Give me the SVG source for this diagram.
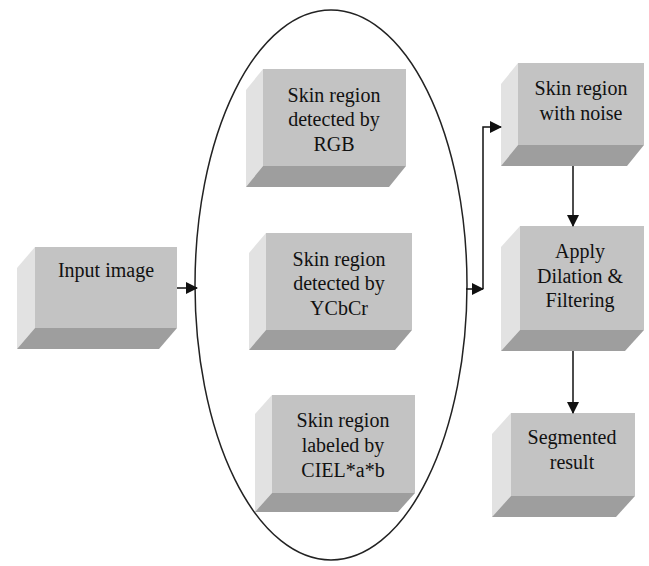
<svg xmlns="http://www.w3.org/2000/svg" width="649" height="566" viewBox="0 0 649 566">
<style>
.front{fill:#c3c3c3}
.side{fill:#e2e2e2}
.bottom{fill:#9e9e9e}
.lbl{font-family:"Liberation Serif","Times New Roman",serif;font-size:20px;fill:#111;text-anchor:middle}
.conn{fill:none;stroke:#111;stroke-width:1.5}
</style>
<defs>
<marker id="ah" markerUnits="userSpaceOnUse" markerWidth="12" markerHeight="12" refX="11" refY="6" orient="auto">
<path d="M0,0 L12,6 L0,12 z" fill="#111"/>
</marker>
</defs>
<rect width="649" height="566" fill="#fff"/>
<ellipse id="group-ellipse" cx="331" cy="285" rx="136" ry="275" fill="none" stroke="#222" stroke-width="1.5"/>
<g id="input">
<polygon class="side" points="35,247 17,268 17,349 35,328"/>
<polygon class="bottom" points="35,328 177,328 159,349 17,349"/>
<rect class="front" x="35" y="247" width="142" height="81"/>
<text class="lbl" x="106" y="277">Input image</text>
</g>
<g id="rgb">
<polygon class="side" points="263,69 246,90 246,187 263,166"/>
<polygon class="bottom" points="263,166 406,166 389,187 246,187"/>
<rect class="front" x="263" y="69" width="143" height="97"/>
<text class="lbl" x="334" y="102">Skin region</text>
<text class="lbl" x="334" y="126">detected by</text>
<text class="lbl" x="334" y="151">RGB</text>
</g>
<g id="ycbcr">
<polygon class="side" points="266,233 249,253 249,350 266,330"/>
<polygon class="bottom" points="266,330 412,330 395,350 249,350"/>
<rect class="front" x="266" y="233" width="146" height="97"/>
<text class="lbl" x="339" y="266">Skin region</text>
<text class="lbl" x="339" y="290">detected by</text>
<text class="lbl" x="339" y="315">YCbCr</text>
</g>
<g id="ciel">
<polygon class="side" points="272,395 255,414 255,512 272,493"/>
<polygon class="bottom" points="272,493 415,493 398,512 255,512"/>
<rect class="front" x="272" y="395" width="143" height="98"/>
<text class="lbl" x="343" y="427">Skin region</text>
<text class="lbl" x="343" y="452">labeled by</text>
<text class="lbl" x="343" y="477">CIEL*a*b</text>
</g>
<g id="noise">
<polygon class="side" points="518,63 501,84 501,166 518,145"/>
<polygon class="bottom" points="518,145 644,145 627,166 501,166"/>
<rect class="front" x="518" y="63" width="126" height="82"/>
<text class="lbl" x="581" y="95">Skin region</text>
<text class="lbl" x="581" y="120">with noise</text>
</g>
<g id="apply">
<polygon class="side" points="520,226 501,247 501,351 520,330"/>
<polygon class="bottom" points="520,330 644,330 625,351 501,351"/>
<rect class="front" x="520" y="226" width="124" height="104"/>
<text class="lbl" x="580" y="258">Apply</text>
<text class="lbl" x="580" y="283">Dilation &amp;</text>
<text class="lbl" x="580" y="307">Filtering</text>
</g>
<g id="segmented">
<polygon class="side" points="511,413 492,434 492,517 511,496"/>
<polygon class="bottom" points="511,496 635,496 616,517 492,517"/>
<rect class="front" x="511" y="413" width="124" height="83"/>
<text class="lbl" x="572" y="444">Segmented</text>
<text class="lbl" x="572" y="469">result</text>
</g>
<g id="connectors">
<line class="conn" x1="177" y1="288" x2="197" y2="288" marker-end="url(#ah)"/>
<line class="conn" x1="466" y1="289" x2="483" y2="289" marker-end="url(#ah)"/>
<path class="conn" d="M483,289 V127 H501" marker-end="url(#ah)"/>
<line class="conn" x1="573" y1="166" x2="573" y2="226" marker-end="url(#ah)"/>
<line class="conn" x1="573" y1="351" x2="573" y2="413" marker-end="url(#ah)"/>
</g>
</svg>
